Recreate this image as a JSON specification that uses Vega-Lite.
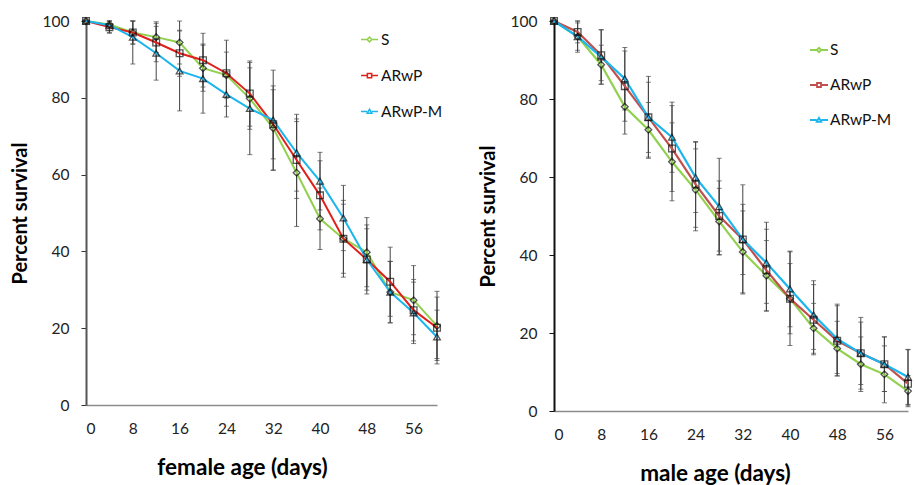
{
  "$schema": "https://vega.github.io/schema/vega-lite/v6.json",
  "background": "white",
  "padding": {"left": 10, "top": 14, "right": 0, "bottom": 0},
  "config": {
    "font": "Lato",
    "view": {"stroke": null},
    "axis": {"grid": false, "labelFont": "Lato", "titleFont": "Lato", "labelFontSize": 15.5, "labelColor": "#222", "titleFontSize": 20, "titleFontWeight": "bold", "titleColor": "#000"},
    "legend": {"labelFont": "Lato", "labelFontSize": 15.5, "labelColor": "#111"}
  },
  "datasets": {
    "d": [
      {"panel":"F","series":"S","age":0,"surv":100,"lo":100,"hi":100},
      {"panel":"F","series":"ARwP","age":0,"surv":100,"lo":100,"hi":100},
      {"panel":"F","series":"ARwP-M","age":0,"surv":100,"lo":100,"hi":100},
      {"panel":"F","series":"S","age":4,"surv":99.1,"lo":98,"hi":100},
      {"panel":"F","series":"ARwP","age":4,"surv":98.4,"lo":96.8,"hi":100},
      {"panel":"F","series":"ARwP-M","age":4,"surv":98.9,"lo":97,"hi":100},
      {"panel":"F","series":"S","age":8,"surv":97,"lo":94,"hi":100},
      {"panel":"F","series":"ARwP","age":8,"surv":97,"lo":94,"hi":100},
      {"panel":"F","series":"ARwP-M","age":8,"surv":95.8,"lo":88.8,"hi":100},
      {"panel":"F","series":"S","age":12,"surv":95.8,"lo":91.8,"hi":99.8},
      {"panel":"F","series":"ARwP","age":12,"surv":94.4,"lo":89.4,"hi":99.4},
      {"panel":"F","series":"ARwP-M","age":12,"surv":91.6,"lo":84.6,"hi":98.6},
      {"panel":"F","series":"S","age":16,"surv":94.4,"lo":88.8,"hi":100},
      {"panel":"F","series":"ARwP","age":16,"surv":91.6,"lo":85.6,"hi":97.6},
      {"panel":"F","series":"ARwP-M","age":16,"surv":87,"lo":76.6,"hi":97.4},
      {"panel":"F","series":"S","age":20,"surv":87.7,"lo":81.7,"hi":93.7},
      {"panel":"F","series":"ARwP","age":20,"surv":89.8,"lo":82.8,"hi":96.8},
      {"panel":"F","series":"ARwP-M","age":20,"surv":85,"lo":76,"hi":94},
      {"panel":"F","series":"S","age":24,"surv":85.9,"lo":79.9,"hi":91.9},
      {"panel":"F","series":"ARwP","age":24,"surv":86.4,"lo":77.8,"hi":95},
      {"panel":"F","series":"ARwP-M","age":24,"surv":80.9,"lo":75,"hi":86.8},
      {"panel":"F","series":"S","age":28,"surv":79.8,"lo":71.8,"hi":87.8},
      {"panel":"F","series":"ARwP","age":28,"surv":81.1,"lo":72.6,"hi":89.6},
      {"panel":"F","series":"ARwP-M","age":28,"surv":77.2,"lo":65.2,"hi":89.2},
      {"panel":"F","series":"S","age":32,"surv":72.1,"lo":61.1,"hi":83.1},
      {"panel":"F","series":"ARwP","age":32,"surv":73.1,"lo":64.1,"hi":82.1},
      {"panel":"F","series":"ARwP-M","age":32,"surv":74.2,"lo":61.2,"hi":87.2},
      {"panel":"F","series":"S","age":36,"surv":60.5,"lo":46.5,"hi":74.5},
      {"panel":"F","series":"ARwP","age":36,"surv":63.8,"lo":53.8,"hi":73.8},
      {"panel":"F","series":"ARwP-M","age":36,"surv":65.7,"lo":55.7,"hi":75.7},
      {"panel":"F","series":"S","age":40,"surv":48.5,"lo":40.5,"hi":56.5},
      {"panel":"F","series":"ARwP","age":40,"surv":54.6,"lo":45.6,"hi":63.6},
      {"panel":"F","series":"ARwP-M","age":40,"surv":58.3,"lo":50.8,"hi":65.8},
      {"panel":"F","series":"S","age":44,"surv":43.3,"lo":33.3,"hi":53.3},
      {"panel":"F","series":"ARwP","age":44,"surv":43.3,"lo":34.3,"hi":52.3},
      {"panel":"F","series":"ARwP-M","age":44,"surv":48.7,"lo":40.2,"hi":57.2},
      {"panel":"F","series":"S","age":48,"surv":39.8,"lo":30.8,"hi":48.8},
      {"panel":"F","series":"ARwP","age":48,"surv":37.9,"lo":29.9,"hi":45.9},
      {"panel":"F","series":"ARwP-M","age":48,"surv":37.9,"lo":28.9,"hi":46.9},
      {"panel":"F","series":"S","age":52,"surv":29.4,"lo":21.4,"hi":37.4},
      {"panel":"F","series":"ARwP","age":52,"surv":32.1,"lo":23.1,"hi":41.1},
      {"panel":"F","series":"ARwP-M","age":52,"surv":29.4,"lo":21.4,"hi":37.4},
      {"panel":"F","series":"S","age":56,"surv":27.3,"lo":18.3,"hi":36.3},
      {"panel":"F","series":"ARwP","age":56,"surv":24.7,"lo":16.7,"hi":32.7},
      {"panel":"F","series":"ARwP-M","age":56,"surv":24,"lo":16,"hi":32},
      {"panel":"F","series":"S","age":60,"surv":20.6,"lo":11.6,"hi":29.6},
      {"panel":"F","series":"ARwP","age":60,"surv":20.1,"lo":12.1,"hi":28.1},
      {"panel":"F","series":"ARwP-M","age":60,"surv":17.7,"lo":10.7,"hi":24.7},
      {"panel":"M","series":"S","age":0,"surv":100,"lo":100,"hi":100},
      {"panel":"M","series":"ARwP","age":0,"surv":100,"lo":100,"hi":100},
      {"panel":"M","series":"ARwP-M","age":0,"surv":100,"lo":100,"hi":100},
      {"panel":"M","series":"S","age":4,"surv":96,"lo":92.5,"hi":99.5},
      {"panel":"M","series":"ARwP","age":4,"surv":97.2,"lo":94.4,"hi":100},
      {"panel":"M","series":"ARwP-M","age":4,"surv":96,"lo":92,"hi":100},
      {"panel":"M","series":"S","age":8,"surv":88.8,"lo":83.8,"hi":93.8},
      {"panel":"M","series":"ARwP","age":8,"surv":91.2,"lo":84.7,"hi":97.7},
      {"panel":"M","series":"ARwP-M","age":8,"surv":90.8,"lo":83.8,"hi":97.8},
      {"panel":"M","series":"S","age":12,"surv":78,"lo":71,"hi":85},
      {"panel":"M","series":"ARwP","age":12,"surv":83.3,"lo":74.3,"hi":92.3},
      {"panel":"M","series":"ARwP-M","age":12,"surv":85.2,"lo":77.2,"hi":93.2},
      {"panel":"M","series":"S","age":16,"surv":72.1,"lo":65.1,"hi":79.1},
      {"panel":"M","series":"ARwP","age":16,"surv":75.3,"lo":64.8,"hi":85.8},
      {"panel":"M","series":"ARwP-M","age":16,"surv":75.3,"lo":66.3,"hi":84.3},
      {"panel":"M","series":"S","age":20,"surv":63.9,"lo":53.9,"hi":73.9},
      {"panel":"M","series":"ARwP","age":20,"surv":67.3,"lo":56.3,"hi":78.3},
      {"panel":"M","series":"ARwP-M","age":20,"surv":70.2,"lo":61.2,"hi":79.2},
      {"panel":"M","series":"S","age":24,"surv":56.7,"lo":46.2,"hi":67.2},
      {"panel":"M","series":"ARwP","age":24,"surv":58.1,"lo":47.1,"hi":69.1},
      {"panel":"M","series":"ARwP-M","age":24,"surv":59.9,"lo":50.9,"hi":68.9},
      {"panel":"M","series":"S","age":28,"surv":48.6,"lo":40.1,"hi":57.1},
      {"panel":"M","series":"ARwP","age":28,"surv":50,"lo":41,"hi":59},
      {"panel":"M","series":"ARwP-M","age":28,"surv":52.4,"lo":40,"hi":64.8},
      {"panel":"M","series":"S","age":32,"surv":40.8,"lo":30.3,"hi":51.3},
      {"panel":"M","series":"ARwP","age":32,"surv":44,"lo":30,"hi":58},
      {"panel":"M","series":"ARwP-M","age":32,"surv":44,"lo":35,"hi":53},
      {"panel":"M","series":"S","age":36,"surv":34.7,"lo":25.7,"hi":43.7},
      {"panel":"M","series":"ARwP","age":36,"surv":36.1,"lo":25.6,"hi":46.6},
      {"panel":"M","series":"ARwP-M","age":36,"surv":38,"lo":27.6,"hi":48.4},
      {"panel":"M","series":"S","age":40,"surv":28.8,"lo":16.8,"hi":40.8},
      {"panel":"M","series":"ARwP","age":40,"surv":28.8,"lo":19.8,"hi":37.8},
      {"panel":"M","series":"ARwP-M","age":40,"surv":31.3,"lo":21.6,"hi":41},
      {"panel":"M","series":"S","age":44,"surv":21.2,"lo":14.8,"hi":27.6},
      {"panel":"M","series":"ARwP","age":44,"surv":23.4,"lo":14.4,"hi":32.4},
      {"panel":"M","series":"ARwP-M","age":44,"surv":24.6,"lo":15.8,"hi":33.4},
      {"panel":"M","series":"S","age":48,"surv":16,"lo":9,"hi":23},
      {"panel":"M","series":"ARwP","age":48,"surv":18,"lo":9,"hi":27},
      {"panel":"M","series":"ARwP-M","age":48,"surv":18.5,"lo":9.6,"hi":27.4},
      {"panel":"M","series":"S","age":52,"surv":12,"lo":5,"hi":19},
      {"panel":"M","series":"ARwP","age":52,"surv":14.8,"lo":5.6,"hi":24},
      {"panel":"M","series":"ARwP-M","age":52,"surv":14.8,"lo":6.8,"hi":22.8},
      {"panel":"M","series":"S","age":56,"surv":9.4,"lo":2.1,"hi":16.7},
      {"panel":"M","series":"ARwP","age":56,"surv":12,"lo":5,"hi":19},
      {"panel":"M","series":"ARwP-M","age":56,"surv":12,"lo":5,"hi":19},
      {"panel":"M","series":"S","age":60,"surv":5.1,"lo":1.1,"hi":9.1},
      {"panel":"M","series":"ARwP","age":60,"surv":7,"lo":1.5,"hi":15.8},
      {"panel":"M","series":"ARwP-M","age":60,"surv":8.7,"lo":1.7,"hi":15.7}
    ]
  },
  "spacing": 35,
  "resolve": {"scale": {"color": "independent", "x": "independent", "y": "independent"}, "legend": {"color": "independent"}},
  "hconcat": [
    {
      "width": 351,
      "height": 384,
      "data": {"name": "d"},
      "transform": [{"filter": "datum.panel === 'F'"}],
      "encoding": {
        "x": {"field": "age", "type": "quantitative", "scale": {"domain": [0, 60], "nice": false},
              "axis": {"values": [0, 8, 16, 24, 32, 40, 48, 56], "ticks": false, "domainColor": "#8c8c8c", "domainWidth": 1.5, "labelPadding": 16, "titlePadding": 20, "titleFontSize": 22.5, "titleX": 156, "title": "female age (days)"}},
        "y": {"field": "surv", "type": "quantitative", "scale": {"domain": [0, 100], "nice": false},
              "axis": {"values": [0, 20, 40, 60, 80, 100], "tickSize": 5, "tickColor": "#333", "domainColor": "#555", "domainWidth": 2, "labelPadding": 12, "titlePadding": 12, "title": "Percent survival"}}
      },
      "layer": [
        {
          "mark": {"type": "errorbar", "ticks": {"size": 5}, "color": "#444", "thickness": 1},
          "encoding": {"y": {"field": "lo", "type": "quantitative"}, "y2": {"field": "hi"}}
        },
        {
          "mark": {"type": "line", "strokeWidth": 2},
          "encoding": {
            "color": {"field": "series", "type": "nominal",
              "scale": {"domain": ["S", "ARwP", "ARwP-M"], "range": ["#92D050", "#E0201B", "#1CB5EE"]},
              "legend": {"orient": "none", "legendX": 274, "legendY": 9, "title": null, "symbolSize": 289, "symbolStrokeWidth": 1.5, "rowPadding": 18, "labelOffset": 2,
                "encode": {"symbols": {"update": {"fill": {"value": "transparent"}, "shape": {"signal": "datum.value === 'S' ? 'M-1,0H-0.28M0.28,0H1M-0.28,0L0,-0.28L0.28,0L0,0.28Z' : datum.value === 'ARwP' ? 'M-1,0H-0.25M0.25,0H1M-0.25,-0.25H0.25V0.25H-0.25Z' : 'M-1,0H-0.28M0.28,0H1M-0.28,0.22L0,-0.26L0.28,0.22Z'"}}}}}
            }
          }
        },
        {
          "transform": [{"filter": "datum.series === 'S'"}],
          "mark": {"type": "point", "shape": "diamond", "filled": false, "color": "#111", "strokeWidth": 1.3, "size": 45}
        },
        {
          "transform": [{"filter": "datum.series === 'ARwP'"}],
          "mark": {"type": "point", "shape": "square", "filled": false, "color": "#111", "strokeWidth": 1.3, "size": 45}
        },
        {
          "transform": [{"filter": "datum.series === 'ARwP-M'"}],
          "mark": {"type": "point", "shape": "triangle-up", "filled": false, "color": "#111", "strokeWidth": 1.3, "size": 45}
        }
      ]
    },
    {
      "width": 354,
      "height": 390,
      "data": {"name": "d"},
      "transform": [{"filter": "datum.panel === 'M'"}],
      "encoding": {
        "x": {"field": "age", "type": "quantitative", "scale": {"domain": [0, 60], "nice": false},
              "axis": {"values": [0, 8, 16, 24, 32, 40, 48, 56], "ticks": false, "domainColor": "#8c8c8c", "domainWidth": 1.5, "labelPadding": 16, "titlePadding": 20, "titleFontSize": 22.5, "titleX": 161, "title": "male age (days)"}},
        "y": {"field": "surv", "type": "quantitative", "scale": {"domain": [0, 100], "nice": false},
              "axis": {"values": [0, 20, 40, 60, 80, 100], "tickSize": 5, "tickColor": "#111", "domainColor": "#111", "domainWidth": 2, "labelPadding": 12, "titlePadding": 12, "title": "Percent survival"}}
      },
      "layer": [
        {
          "mark": {"type": "errorbar", "ticks": {"size": 5}, "color": "#444", "thickness": 1},
          "encoding": {"y": {"field": "lo", "type": "quantitative"}, "y2": {"field": "hi"}}
        },
        {
          "mark": {"type": "line", "strokeWidth": 2.2},
          "encoding": {
            "color": {"field": "series", "type": "nominal",
              "scale": {"domain": ["S", "ARwP", "ARwP-M"], "range": ["#92D050", "#C0504D", "#1CB5EE"]},
              "legend": {"orient": "none", "legendX": 255, "legendY": 19, "title": null, "symbolSize": 324, "symbolStrokeWidth": 1.8, "rowPadding": 16, "labelOffset": 1,
                "encode": {"symbols": {"update": {"fill": {"value": "transparent"}, "shape": {"signal": "datum.value === 'S' ? 'M-1,0H-0.25M0.25,0H1M-0.25,0L0,-0.25L0.25,0L0,0.25Z' : datum.value === 'ARwP' ? 'M-1,0H-0.22M0.22,0H1M-0.22,-0.22H0.22V0.22H-0.22Z' : 'M-1,0H-0.25M0.25,0H1M-0.25,0.2L0,-0.24L0.25,0.2Z'"}}}}}
            }
          }
        },
        {
          "transform": [{"filter": "datum.series === 'S'"}],
          "mark": {"type": "point", "shape": "diamond", "filled": false, "color": "#111", "strokeWidth": 1.3, "size": 45}
        },
        {
          "transform": [{"filter": "datum.series === 'ARwP'"}],
          "mark": {"type": "point", "shape": "square", "filled": false, "color": "#111", "strokeWidth": 1.3, "size": 45}
        },
        {
          "transform": [{"filter": "datum.series === 'ARwP-M'"}],
          "mark": {"type": "point", "shape": "triangle-up", "filled": false, "color": "#111", "strokeWidth": 1.3, "size": 45}
        }
      ]
    }
  ]
}
